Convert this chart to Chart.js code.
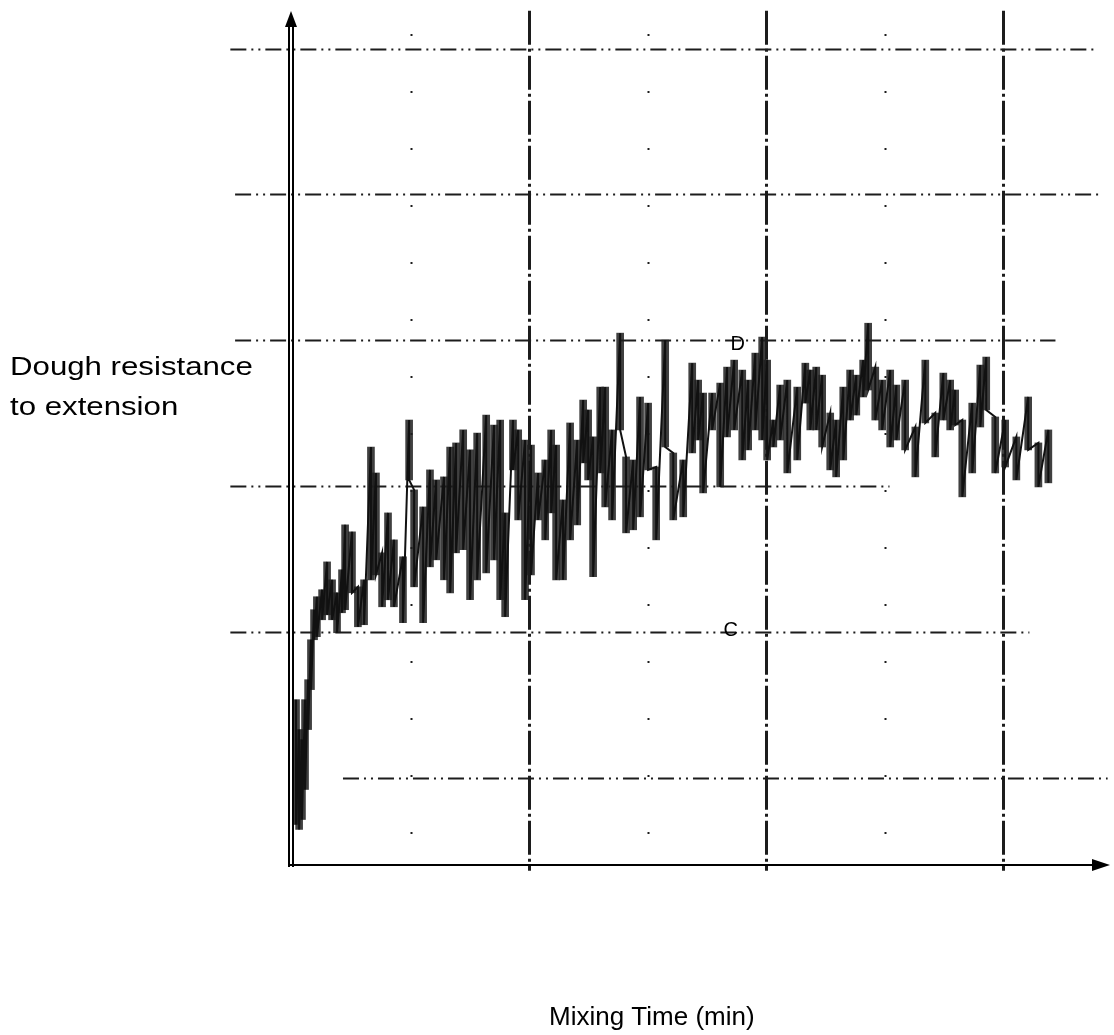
<!DOCTYPE html>
<html>
<head>
<meta charset="utf-8">
<script src="https://cdn.jsdelivr.net/npm/chart.js@4.4.1/dist/chart.umd.min.js"></script>
<style>
  html, body { margin: 0; padding: 0; background: #fff; }
  canvas { display: block; }
</style>
</head>
<body>
<canvas id="mixChart" width="1114" height="1035"></canvas>
<script>
// mixing time (grid units) and the upper / lower edge of the trace at that time
const time = [0.17, 0.30, 0.42, 0.55, 0.68, 0.80, 0.93, 1.05, 1.27, 1.48, 1.69, 1.90, 2.11, 2.24, 2.53, 2.78,
  3.04, 3.33, 3.54, 3.80, 4.05, 4.30, 4.68, 4.94, 5.15, 5.53, 5.82, 6.08, 6.41, 6.67, 6.92, 7.22,
  7.51, 7.81, 8.19, 8.52, 8.78, 8.99, 9.32, 9.54, 9.83, 10.08, 10.38, 10.68, 10.93, 11.14, 11.43, 11.73,
  12.03, 12.28, 12.49, 12.70, 13.00, 13.21, 13.50, 13.84, 14.09, 14.39, 14.68, 15.02, 15.36, 15.74, 16.08, 16.50,
  16.88, 17.13, 17.34, 17.72, 18.06, 18.35, 18.65, 18.99, 19.24, 19.54, 19.83, 20.04, 20.30, 20.59, 20.89, 21.31,
  21.65, 21.86, 22.11, 22.36, 22.70, 22.95, 23.25, 23.54, 23.80, 24.09, 24.30, 24.60, 24.89, 25.23, 25.49, 25.86,
  26.29, 26.71, 27.13, 27.47, 27.76, 27.97, 28.27, 28.69, 29.03, 29.28, 29.66, 30.08, 30.55, 31.05, 31.48, 31.90];
const upper = [5.34, 3.29, 2.60, 5.34, 6.71, 9.45, 11.51, 12.40, 12.88, 14.79, 13.56, 12.67, 14.25, 17.33, 16.85, 13.08,
  13.56, 22.67, 20.89, 15.41, 18.15, 16.30, 15.14, 24.52, 19.73, 18.56, 21.10, 20.41, 20.62, 22.67, 22.95, 23.84,
  22.47, 23.63, 24.86, 24.18, 24.52, 18.15, 24.52, 23.84, 23.15, 22.81, 20.89, 21.78, 23.84, 22.81, 19.04, 24.32,
  23.15, 25.89, 25.21, 23.36, 26.78, 26.78, 23.84, 30.48, 21.99, 21.78, 26.10, 25.68, 21.30, 30.00, 22.26, 21.78,
  28.42, 27.26, 26.37, 26.37, 27.05, 28.15, 28.63, 27.95, 27.26, 29.11, 30.21, 28.63, 24.52, 26.92, 27.26, 26.78,
  28.42, 27.95, 28.15, 27.60, 25.00, 24.52, 26.78, 27.95, 27.60, 28.63, 31.16, 28.15, 27.26, 27.95, 26.92, 27.26,
  24.04, 28.63, 25.00, 27.74, 27.26, 26.58, 24.52, 25.68, 28.29, 28.84, 24.73, 24.52, 23.36, 26.10, 22.95, 23.84];
const lower = [-3.22, -3.56, -2.88, -0.82, 3.29, 6.03, 9.45, 9.66, 10.82, 11.16, 10.82, 9.93, 11.30, 11.51, 12.67, 10.34,
  10.48, 13.56, 13.90, 11.71, 12.19, 11.71, 10.62, 20.41, 13.08, 10.62, 14.45, 14.93, 13.56, 12.67, 15.41, 15.62,
  12.19, 13.56, 14.04, 14.93, 12.19, 11.03, 21.10, 17.67, 12.19, 13.90, 17.67, 16.30, 18.15, 13.56, 13.56, 16.30,
  17.33, 21.58, 20.41, 13.77, 20.89, 18.56, 17.67, 23.84, 16.78, 16.99, 17.88, 21.10, 16.30, 22.67, 17.67, 17.88,
  22.26, 23.15, 19.52, 23.84, 19.93, 23.36, 23.84, 21.78, 22.47, 23.84, 23.15, 21.78, 22.67, 23.15, 20.89, 21.78,
  25.68, 23.84, 23.84, 22.67, 21.10, 20.62, 21.78, 24.52, 24.86, 26.10, 26.58, 24.52, 23.84, 22.67, 23.15, 22.47,
  20.62, 24.32, 21.99, 24.52, 23.84, 24.18, 19.25, 20.89, 24.04, 25.21, 20.89, 21.30, 20.41, 22.47, 19.93, 20.21];

// grid positions of the recorder paper
const hGrid = [0, 10, 20, 30, 40, 50];
const vGrid = [10, 20, 30];
const vMinor = [5, 15, 25];

// trace as vertical strokes: top then bottom at each time
const trace = [];
const bands = [];
time.forEach((t, i) => {
  trace.push({ x: t, y: upper[i] });
  trace.push({ x: t, y: lower[i] });
  bands.push({ x: t, y: [lower[i], upper[i]] });
});

// how far each horizontal paper line runs (x units)
const hSpan = [[2.15, 34.4], [-2.6, 31.1], [-2.6, 25.2], [-2.4, 32.2], [-2.4, 34.2], [-2.6, 34.0]];

const paperPlugin = {
  id: 'paper',
  beforeDatasetsDraw(chart) {
    const { ctx, scales: { x, y } } = chart;
    ctx.save();
    ctx.strokeStyle = '#1c1c1c';

    // horizontal dash-dot-dot lines
    ctx.lineWidth = 2;
    ctx.setLineDash([16, 5, 2, 5, 2, 5]);
    hGrid.forEach((v, i) => {
      const py = Math.round(y.getPixelForValue(v)) + 0.5;
      ctx.beginPath();
      ctx.moveTo(x.getPixelForValue(hSpan[i][0]), py);
      ctx.lineTo(x.getPixelForValue(hSpan[i][1]), py);
      ctx.stroke();
    });

    // heavy vertical lines
    ctx.lineWidth = 3;
    ctx.setLineDash([34, 4, 3, 4]);
    vGrid.forEach(v => {
      const px = Math.round(x.getPixelForValue(v)) + 0.5;
      ctx.beginPath();
      ctx.moveTo(px, y.getPixelForValue(52.6));
      ctx.lineTo(px, y.getPixelForValue(-6.4));
      ctx.stroke();
    });

    // faint dotted half lines
    ctx.lineWidth = 2;
    ctx.setLineDash([2, 55]);
    vMinor.forEach(v => {
      const px = Math.round(x.getPixelForValue(v)) + 0.5;
      ctx.beginPath();
      ctx.moveTo(px, y.getPixelForValue(51));
      ctx.lineTo(px, y.getPixelForValue(-5));
      ctx.stroke();
    });
    ctx.restore();
  },
  afterDraw(chart) {
    const { ctx, scales: { x, y } } = chart;
    const x0 = x.getPixelForValue(0);
    const yb = y.getPixelForValue(-6);
    const yt = y.getPixelForValue(52.3);
    const xr = x.getPixelForValue(34.5);
    ctx.save();
    ctx.strokeStyle = '#000';
    ctx.fillStyle = '#000';
    ctx.setLineDash([]);

    // double y axis with arrow
    ctx.lineWidth = 2;
    [x0 - 3, x0 + 1].forEach(px => {
      ctx.beginPath();
      ctx.moveTo(px, yt + 8);
      ctx.lineTo(px, yb + 2);
      ctx.stroke();
    });
    ctx.beginPath();
    ctx.moveTo(x0 - 1, yt - 4);
    ctx.lineTo(x0 - 7, yt + 12);
    ctx.lineTo(x0 + 5, yt + 12);
    ctx.closePath();
    ctx.fill();

    // x axis with arrow
    ctx.lineWidth = 2;
    ctx.beginPath();
    ctx.moveTo(x0 - 3, yb);
    ctx.lineTo(xr - 14, yb);
    ctx.stroke();
    ctx.beginPath();
    ctx.moveTo(xr, yb);
    ctx.lineTo(xr - 18, yb - 6);
    ctx.lineTo(xr - 18, yb + 6);
    ctx.closePath();
    ctx.fill();

    // small marks on the trace
    ctx.font = '20px "Liberation Sans", Arial, sans-serif';
    ctx.textAlign = 'center';
    ctx.textBaseline = 'middle';
    ctx.fillText('C', x.getPixelForValue(18.5), y.getPixelForValue(10.1));
    ctx.fillText('D', x.getPixelForValue(18.8), y.getPixelForValue(29.7));

    // axis titles
    ctx.textAlign = 'left';
    ctx.textBaseline = 'alphabetic';
    ctx.font = '26px "Liberation Sans", Arial, sans-serif';
    ctx.fillText('Mixing Time (min)', 549, 1025);
    ctx.save();
    ctx.scale(1.2, 1);
    ctx.fillText('Dough resistance', 10 / 1.2, 375);
    ctx.fillText('to extension', 10 / 1.2, 415);
    ctx.restore();
    ctx.restore();
  }
};

new Chart(document.getElementById('mixChart').getContext('2d'), {
  data: {
    datasets: [{
      type: 'line',
      label: 'Dough resistance',
      data: trace,
      borderColor: '#111',
      borderWidth: 2,
      pointRadius: 0,
      tension: 0,
      order: 1
    }, {
      type: 'bar',
      label: 'Band',
      data: bands,
      backgroundColor: 'rgba(30,30,30,0.85)',
      borderWidth: 0,
      barThickness: 7,
      order: 2
    }]
  },
  options: {
    responsive: false,
    animation: false,
    layout: { padding: { left: 292, top: 15, right: 4, bottom: 170 } },
    plugins: {
      legend: { display: false },
      tooltip: { enabled: false }
    },
    scales: {
      x: { type: 'linear', min: 0, max: 34.5, display: false, offset: false },
      y: { min: -6, max: 52.3, display: false }
    }
  },
  plugins: [paperPlugin]
});
</script>
</body>
</html>
